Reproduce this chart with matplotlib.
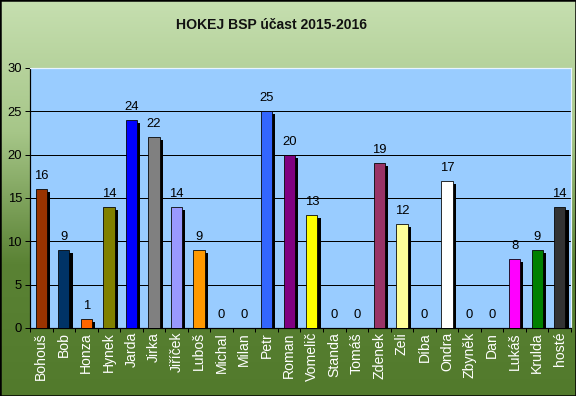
import numpy as np
import matplotlib
matplotlib.use("Agg")
from matplotlib import pyplot as plt
from matplotlib.colors import LinearSegmentedColormap
from matplotlib.patches import Rectangle

plt.rcParams["font.family"] = ["Liberation Sans", "DejaVu Sans"]

# Data
players = ["Bohouš", "Bob", "Honza", "Hynek", "Jarda", "Jirka", "Jiříček", "Luboš",
           "Michal", "Milan", "Petr", "Roman", "Vomelič", "Standa", "Tomáš", "Zdenek",
           "Zeli", "Díba", "Ondra", "Zbyněk", "Dan", "Lukáš", "Krulda", "hosté"]
attendance = [16, 9, 1, 14, 24, 22, 14, 9, 0, 0, 25, 20, 13, 0, 0, 19,
              12, 0, 17, 0, 0, 8, 9, 14]
bar_colors = ["#993300", "#003366", "#ff6600", "#808000", "#0000ff", "#808080",
              "#9999ff", "#ff9900", "#99ccff", "#99ccff", "#3366ff", "#800080",
              "#ffff00", "#99ccff", "#99ccff", "#993366", "#ffff99", "#99ccff",
              "#ffffff", "#99ccff", "#99ccff", "#ff00ff", "#008000", "#333333"]
y_ticks = [0, 5, 10, 15, 20, 25, 30]

fig = plt.figure(figsize=(8, 5.5), dpi=72)

# Background gradient (light green on top, dark green at the bottom)
bg = fig.add_axes([0, 0, 1, 1], zorder=-10)
cmap = LinearSegmentedColormap.from_list("bg", ["#c6dfb0", "#a6c688", "#5a8234", "#527a2c"])
bg.imshow(np.linspace(0, 1, 256).reshape(-1, 1), aspect="auto", cmap=cmap,
          extent=[0, 1, 0, 1])
bg.set_axis_off()
bg.add_patch(Rectangle((0, 0), 1, 1, transform=bg.transAxes, fill=False,
                       edgecolor="black", linewidth=2.5, clip_on=False))

fig.text(271 / 576, 0.937, "HOKEJ BSP účast 2015-2016", ha="center", va="center",
         fontsize=14, fontweight="bold", color="#111111")

ax = fig.add_axes([30 / 576, 68 / 396, 541 / 576, 260 / 396])
ax.set_facecolor("#99ccff")

x = np.arange(len(players))
width = 0.5
dx, dy = 0.14, 0.35
shadow_heights = [max(v - dy, 0) for v in attendance]
ax.bar(x + dx, shadow_heights, width=width, color="black", zorder=2)
ax.bar(x, attendance, width=width, color=bar_colors, edgecolor="black",
       linewidth=0.8, zorder=3)

for xi, v in zip(x, attendance):
    ax.text(xi, v + 0.8, str(v), ha="center", va="bottom", fontsize=13,
            color="black", zorder=4)

ax.set_xlim(-0.5, len(players) - 0.5)
ax.set_ylim(0, 30)
ax.set_yticks(y_ticks)
ax.yaxis.grid(True, color="black", linewidth=1)
ax.set_axisbelow(True)
ax.tick_params(axis="y", labelsize=13, length=5, width=1, direction="out",
               pad=3, colors="black")

ax.set_xticks(x)
ax.set_xticklabels(players, rotation=90, fontsize=14, color="white")
ax.set_xticks(np.arange(-0.5, len(players), 1), minor=True)
ax.tick_params(axis="x", which="major", length=0, pad=4)
ax.tick_params(axis="x", which="minor", length=4, width=1, color="black")

ax.spines["left"].set_color("black")
ax.spines["bottom"].set_color("black")
ax.spines["top"].set_color("#e8f4ff")
ax.spines["right"].set_color("#e8f4ff")
for s in ax.spines.values():
    s.set_linewidth(1.2)

fig.savefig("out.png", dpi=72)
